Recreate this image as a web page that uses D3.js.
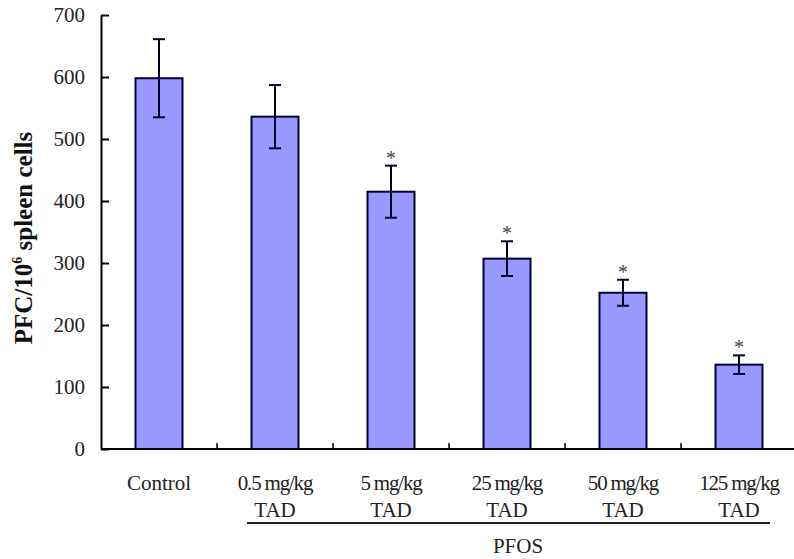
<!DOCTYPE html>
<html>
<head>
<meta charset="utf-8">
<script src="https://cdn.jsdelivr.net/npm/d3@7"></script>
<style>
  body { margin: 0; background: #fff; }
  svg { display: block; }
  text { font-family: "Liberation Serif", "Times New Roman", serif; }
</style>
</head>
<body>
<svg id="chart" width="794" height="559"></svg>
<script>
const categories = ["Control", "0.5 mg/kg", "5 mg/kg", "25 mg/kg", "50 mg/kg", "125 mg/kg"];
const subLabels = ["", "TAD", "TAD", "TAD", "TAD", "TAD"];
const means = [598, 536, 415, 307, 252, 136];
const errors = [63, 51, 42, 28, 21, 15];
const significant = [false, false, true, true, true, true];
const yTicks = [0, 100, 200, 300, 400, 500, 600, 700];

const svg = d3.select("#chart");
const x0 = 101, x1 = 797, yBase = 449, yTop = 15;

const x = d3.scaleBand().domain(categories).range([x0, x1]).padding(0);
const y = d3.scaleLinear().domain([0, 700]).range([yBase, yTop]);
const barW = x.step() * 0.405;

// bars
const g = svg.append("g");
g.selectAll("rect.bar").data(categories).join("rect")
  .attr("class", "bar")
  .attr("x", d => x(d) + x.bandwidth() / 2 - barW / 2)
  .attr("y", (d, i) => y(means[i]))
  .attr("width", barW)
  .attr("height", (d, i) => y(0) - y(means[i]))
  .attr("fill", "#9999FF")
  .attr("stroke", "#000033")
  .attr("stroke-width", 2);

// error bars
const capW = 12;
categories.forEach((c, i) => {
  const cx = x(c) + x.bandwidth() / 2;
  const top = y(means[i] + errors[i]);
  const bot = y(means[i] - errors[i]);
  g.append("line").attr("x1", cx).attr("x2", cx).attr("y1", top).attr("y2", bot)
    .attr("stroke", "#000022").attr("stroke-width", 2);
  g.append("line").attr("x1", cx - capW / 2).attr("x2", cx + capW / 2).attr("y1", top).attr("y2", top)
    .attr("stroke", "#000022").attr("stroke-width", 2);
  g.append("line").attr("x1", cx - capW / 2).attr("x2", cx + capW / 2).attr("y1", bot).attr("y2", bot)
    .attr("stroke", "#000022").attr("stroke-width", 2);
  if (significant[i]) {
    g.append("text").attr("x", cx).attr("y", top - 1)
      .attr("text-anchor", "middle").attr("font-size", 20).attr("fill", "#444")
      .text("*");
  }
});

// y axis
const yAxis = d3.axisLeft(y).tickValues(yTicks).tickSizeInner(-8).tickSizeOuter(0).tickPadding(16);
const ya = svg.append("g").attr("transform", `translate(${x0},0)`).call(yAxis);
ya.select(".domain").attr("stroke", "#000").attr("stroke-width", 2);
ya.selectAll(".tick line").attr("stroke", "#000").attr("stroke-width", 2);
ya.selectAll(".tick text").attr("font-size", 21).attr("fill", "#222")
  .style("font-family", "Liberation Serif, serif");

// x axis line
svg.append("line").attr("x1", x0).attr("x2", 794).attr("y1", yBase).attr("y2", yBase)
  .attr("stroke", "#000").attr("stroke-width", 2);
// x ticks at category boundaries (inward)
categories.slice(1).forEach(c => {
  svg.append("line").attr("x1", x(c)).attr("x2", x(c)).attr("y1", yBase).attr("y2", yBase - 6)
    .attr("stroke", "#000").attr("stroke-width", 1.5);
});

// category labels
categories.forEach((c, i) => {
  const cx = x(c) + x.bandwidth() / 2;
  const t = svg.append("text").attr("x", cx).attr("y", 490).attr("text-anchor", "middle")
    .attr("font-size", 21).attr("fill", "#222").text(c);
  if (c.includes("mg")) t.style("letter-spacing", "-1.2px");
  if (subLabels[i]) {
    svg.append("text").attr("x", cx).attr("y", 517).attr("text-anchor", "middle")
      .attr("font-size", 21).attr("fill", "#222").text(subLabels[i]);
  }
});

// PFOS group line
svg.append("line").attr("x1", 247).attr("x2", 770).attr("y1", 523).attr("y2", 523)
  .attr("stroke", "#222").attr("stroke-width", 2);
svg.append("text").attr("x", 518).attr("y", 553).attr("text-anchor", "middle")
  .attr("font-size", 21).attr("fill", "#222").text("PFOS");

// y axis title
const yt = svg.append("text")
  .attr("transform", "translate(32,238) rotate(-90)")
  .attr("text-anchor", "middle").attr("font-size", 25).attr("font-weight", "bold").attr("fill", "#111");
yt.append("tspan").text("PFC/10");
yt.append("tspan").attr("dy", -10).attr("font-size", 14).text("6");
yt.append("tspan").attr("dy", 10).text(" spleen cells");
</script>
</body>
</html>
